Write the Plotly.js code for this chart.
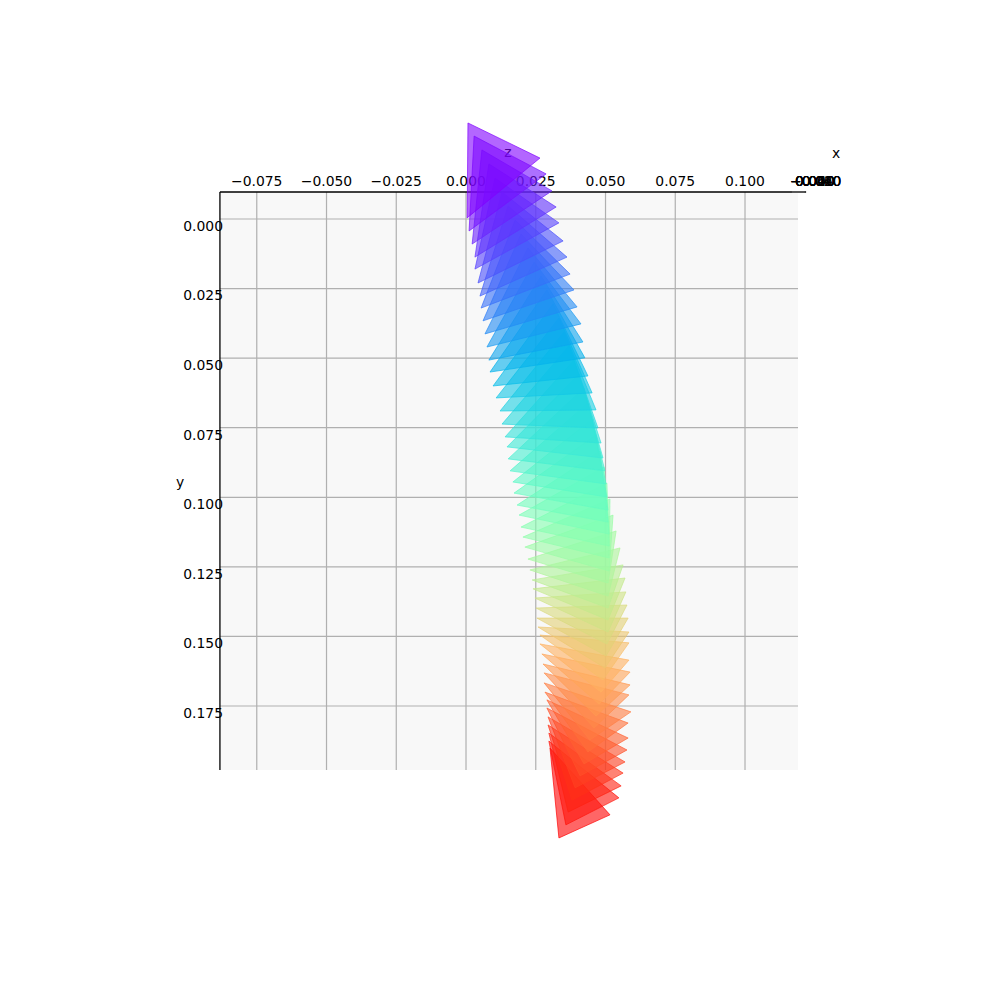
<!DOCTYPE html>
<html>
<head>
<meta charset="utf-8">
<script src="https://cdn.plot.ly/plotly-3.0.1.min.js"></script>
<style>html,body{margin:0;padding:0;background:#fff}#chart{width:990px;height:989px}</style>
</head>
<body>
<div id="chart"></div>
<script>
var xTicks = [-0.075,-0.05,-0.025,0,0.025,0.05,0.075,0.1];
var yTicks = [0,0.025,0.05,0.075,0.1,0.125,0.15,0.175];
var zTickLabels = ["\u22120.060","\u22120.040","\u22120.020","0.000","0.020","0.040","0.060"];

var p1x = [.0007,.0029,.0057,.0082,.0104,.0129,.0151,.0176,.0197,.0222,.0244,.0269,.0290,.0312,.0333,.0351,.0369,.0387,.0405,.0423,.0437,.0452,.0466,.0480,.0495,.0505,.0516,.0527,.0538,.0552,.0563,.0570,.0573,.0577,.0581,.0584,.0584,.0584,.0588,.0588,.0584,.0591,.0581,.0581,.0577,.0570,.0563,.0556,.0548,.0516];
var p1y = [-.0345,-.0298,-.0248,-.0198,-.0147,-.0097,-.0047,.0004,.0054,.0104,.0155,.0205,.0255,.0305,.0356,.0406,.0456,.0507,.0557,.0607,.0661,.0719,.0776,.0834,.0891,.0949,.1006,.1064,.1121,.1182,.1243,.1290,.1340,.1387,.1434,.1484,.1523,.1585,.1628,.1674,.1710,.1771,.1811,.1865,.1908,.1951,.1991,.2037,.2080,.2141];
var p2x = [.0265,.0287,.0308,.0323,.0333,.0348,.0362,.0373,.0387,.0398,.0412,.0419,.0426,.0437,.0452,.0466,.0473,.0484,.0491,.0498,.0502,.0505,.0509,.0509,.0513,.0513,.0513,.0513,.0509,.0509,.0509,.0509,.0509,.0505,.0502,.0498,.0491,.0484,.0477,.0466,.0459,.0444,.0437,.0423,.0409,.0391,.0380,.0366,.0358,.0333];
var p2y = [-.0219,-.0162,-.0101,-.0043,.0014,.0079,.0137,.0198,.0255,.0316,.0377,.0442,.0499,.0564,.0625,.0686,.0751,.0805,.0859,.0905,.0952,.0999,.1046,.1089,.1132,.1175,.1218,.1265,.1308,.1355,.1398,.1441,.1484,.1527,.1570,.1613,.1656,.1700,.1743,.1786,.1829,.1872,.1915,.1958,.2001,.2044,.2088,.2131,.2177,.2224];
var p3x = [.0004,.0011,.0022,.0032,.0032,.0043,.0050,.0054,.0061,.0068,.0075,.0082,.0086,.0097,.0108,.0122,.0129,.0140,.0147,.0151,.0158,.0168,.0172,.0183,.0190,.0197,.0204,.0211,.0222,.0229,.0237,.0240,.0247,.0251,.0254,.0258,.0265,.0265,.0272,.0276,.0280,.0280,.0283,.0290,.0290,.0294,.0294,.0297,.0297,.0301];
var p3y = [-.0004,.0043,.0090,.0137,.0180,.0230,.0277,.0320,.0366,.0413,.0460,.0507,.0550,.0600,.0643,.0690,.0737,.0783,.0819,.0862,.0905,.0945,.0985,.1028,.1064,.1107,.1143,.1179,.1222,.1261,.1297,.1329,.1362,.1398,.1434,.1466,.1495,.1527,.1563,.1599,.1631,.1667,.1700,.1728,.1757,.1789,.1818,.1847,.1876,.1901];

var paneX = [-0.0882, 0.1190];
var paneY = [-0.0097, 0.1980];
var axisEndX = 0.1219;

var FONT = '"DejaVu Sans", sans-serif';
var FS = 13.9;

function rainbow(f, a) {
  var r = Math.min(1, Math.abs(2 * f - 0.5));
  var g = Math.sin(Math.PI * f);
  var b = Math.cos(Math.PI * f / 2);
  return 'rgba(' + Math.round(r * 255) + ',' + Math.round(g * 255) + ',' + Math.round(b * 255) + ',' + a + ')';
}

var traces = [{
  type: 'scatter', mode: 'text', x: [0.01505], y: [-0.0237], text: ['z'],
  textfont: {family: FONT, size: FS, color: '#000'}, textposition: 'middle center',
  hoverinfo: 'skip', showlegend: false
}];
for (var i = p1x.length - 1; i >= 0; i--) {
  var f = i / (p1x.length - 1);
  traces.push({
    type: 'scatter', mode: 'lines', fill: 'toself',
    x: [p1x[i], p2x[i], p3x[i], p1x[i]],
    y: [p1y[i], p2y[i], p3y[i], p1y[i]],
    fillcolor: rainbow(f, 0.6),
    line: {color: rainbow(f, 0.75), width: 0.9},
    hoverinfo: 'skip', showlegend: false
  });
}

var shapes = [{type: 'rect', layer: 'below', x0: paneX[0], x1: paneX[1], y0: paneY[0], y1: paneY[1], fillcolor: '#f8f8f8', line: {width: 0}}];
xTicks.forEach(function (t) {
  shapes.push({type: 'line', layer: 'below', x0: t, x1: t, y0: paneY[0], y1: paneY[1], line: {color: '#b0b0b0', width: 1.2}});
});
yTicks.forEach(function (t) {
  shapes.push({type: 'line', layer: 'below', x0: paneX[0], x1: paneX[1], y0: t, y1: t, line: {color: '#b0b0b0', width: 1.2}});
});
shapes.push({type: 'line', layer: 'below', x0: paneX[0], x1: axisEndX, y0: paneY[0], y1: paneY[0], line: {color: '#000', width: 1.3}});
shapes.push({type: 'line', layer: 'below', x0: paneX[0], x1: paneX[0], y0: paneY[0], y1: paneY[1], line: {color: '#000', width: 1.3}});
shapes.push({type: 'line', layer: 'below', x0: 0.1168, x1: 0.1214, y0: paneY[0], y1: paneY[0], line: {color: '#666', width: 1.3}});

var annotations = zTickLabels.map(function (t) {
  return {text: t, xref: 'x', yref: 'y', x: 0.1252, y: -0.0137, xanchor: 'center', yanchor: 'middle', showarrow: false, font: {family: FONT, size: FS, color: '#000'}};
});
annotations.push({text: 'x', xref: 'x', yref: 'y', x: 0.1326, y: -0.0237, xanchor: 'center', yanchor: 'middle', showarrow: false, font: {family: FONT, size: FS, color: '#000'}});
annotations.push({text: 'y', xref: 'x', yref: 'y', x: -0.1025, y: 0.0945, xanchor: 'center', yanchor: 'middle', showarrow: false, font: {family: FONT, size: FS, color: '#000'}});

var layout = {
  width: 990, height: 989,
  margin: {l: 0, r: 0, t: 0, b: 0, pad: 0},
  paper_bgcolor: '#fff', plot_bgcolor: '#fff',
  showlegend: false,
  font: {family: FONT, size: FS, color: '#000'},
  xaxis: {
    side: 'top', anchor: 'free', position: 0.80587,
    range: [-0.16703, 0.18781], tickvals: xTicks, tickformat: '.3f',
    ticks: '', showline: false, showgrid: false, zeroline: false, layer: 'below traces',
    ticklabelstandoff: 3, tickfont: {family: FONT, size: FS, color: '#000'}
  },
  yaxis: {
    anchor: 'free', position: 0.22222,
    range: [0.27668, -0.07869], tickvals: yTicks, tickformat: '.3f',
    ticks: '', showline: false, showgrid: false, zeroline: false, layer: 'below traces',
    ticklabelstandoff: -3, ticklabelshift: -7, tickfont: {family: FONT, size: FS, color: '#000'}
  },
  shapes: shapes,
  annotations: annotations
};
Plotly.newPlot('chart', traces, layout, {displayModeBar: false, staticPlot: true});
</script>
</body>
</html>
